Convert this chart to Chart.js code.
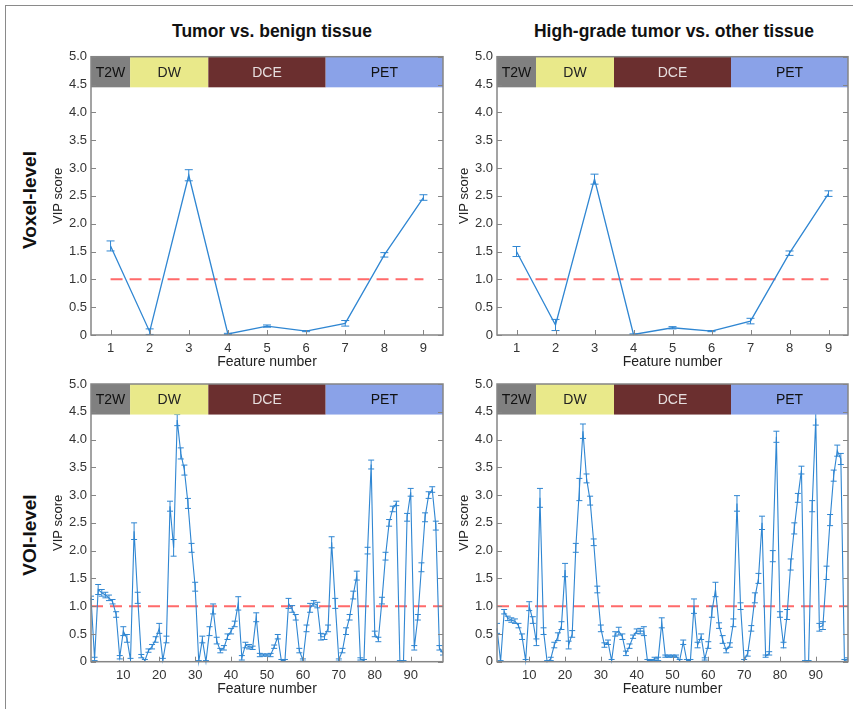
<!DOCTYPE html>
<html><head><meta charset="utf-8">
<script src="https://cdn.jsdelivr.net/npm/chart.js@4.4.0/dist/chart.umd.min.js"></script>
<style>
body{margin:0;background:#fff;width:853px;height:709px;overflow:hidden;position:relative;font-family:"Liberation Sans",Arial,sans-serif;}
canvas{position:absolute;left:0;top:0;}
.frame{position:absolute;left:5px;top:5px;width:900px;height:760px;border-left:1.5px solid #8a8a8a;border-top:1.5px solid #8a8a8a;}
.title{position:absolute;font-weight:bold;font-size:17.5px;color:#111;transform:translate(-50%,-50%);white-space:nowrap;}
.row{position:absolute;font-weight:bold;font-size:19px;color:#111;transform:translate(-50%,-50%) rotate(-90deg);white-space:nowrap;}
</style></head>
<body>
<div class="frame"></div>
<div class="title" style="left:272px;top:31px">Tumor vs. benign tissue</div>
<div class="title" style="left:674px;top:31px">High-grade tumor vs. other tissue</div>
<div class="row" style="left:30px;top:200px">Voxel-level</div>
<div class="row" style="left:30px;top:535px">VOI-level</div>
<canvas id="c1" width="853" height="709"></canvas>
<canvas id="c2" width="853" height="709"></canvas>
<canvas id="c3" width="853" height="709"></canvas>
<canvas id="c4" width="853" height="709"></canvas>
<script>
// ---------- data ----------
const voxelFeatures = [1,2,3,4,5,6,7,8,9];
const voxelTicks = [1,2,3,4,5,6,7,8,9];
const voiTicks = [10,20,30,40,50,60,70,80,90];
const yTicks = [0,0.5,1,1.5,2,2.5,3,3.5,4,4.5,5];
const threshold = 1.0;

const bandNames = ['T2W','DW','DCE','PET'];
const bandEdgesVoxel = [0.5,1.5,3.5,6.5,9.5];

const tumorVoxel    = [1.60,0.06,2.87,0.02,0.16,0.07,0.21,1.44,2.47];
const tumorVoxelErr = [0.09,0.05,0.10,0.01,0.02,0.01,0.05,0.04,0.05];
const gradeVoxel    = [1.50,0.18,2.80,0.01,0.13,0.07,0.25,1.47,2.54];
const gradeVoxelErr = [0.09,0.10,0.09,0.01,0.02,0.01,0.05,0.04,0.05];

const voiFeatures = Array.from({length:99},(_,i)=>i+1);

const tumorVoi = [
 1.15,0.05,1.30,1.24,1.20,1.15,1.08,0.85,0.08,0.55,
 0.42,0.03,2.35,1.15,0.10,0.02,0.20,0.27,0.40,0.60,
 0.03,0.40,2.80,2.05,4.35,3.75,3.45,2.85,2.05,1.35,
 0.00,0.40,0.00,0.55,0.95,0.38,0.20,0.25,0.45,0.55,
 0.68,1.05,0.07,0.30,0.27,0.25,0.80,0.12,0.12,0.12,
 0.12,0.27,0.45,0.02,0.02,1.05,0.95,0.80,0.20,0.03,
 0.60,0.97,1.05,1.02,0.45,0.45,0.60,2.15,1.05,0.03,
 0.20,0.55,0.80,1.20,1.55,0.05,0.02,2.00,3.55,0.50,
 0.40,1.10,1.90,2.50,2.75,2.85,0.00,0.00,2.60,3.05,
 0.25,0.80,1.70,2.60,3.00,3.10,2.45,0.25,0.15];
const tumorVoiErr = [
 0.03,0.03,0.09,0.06,0.05,0.05,0.04,0.05,0.03,0.08,
 0.07,0.03,0.15,0.10,0.03,0.02,0.03,0.04,0.05,0.09,
 0.03,0.06,0.09,0.15,0.10,0.10,0.09,0.09,0.08,0.08,
 0.02,0.06,0.02,0.08,0.09,0.06,0.04,0.04,0.05,0.05,
 0.05,0.12,0.04,0.05,0.04,0.03,0.08,0.03,0.02,0.02,
 0.03,0.03,0.04,0.02,0.02,0.09,0.06,0.05,0.04,0.02,
 0.06,0.08,0.05,0.05,0.06,0.05,0.06,0.10,0.09,0.02,
 0.04,0.06,0.05,0.07,0.08,0.02,0.02,0.06,0.08,0.05,
 0.04,0.06,0.07,0.06,0.05,0.04,0.02,0.02,0.07,0.07,
 0.04,0.05,0.08,0.08,0.06,0.05,0.08,0.04,0.03];

const gradeVoi = [
 0.60,0.00,0.90,0.78,0.75,0.73,0.65,0.45,0.02,1.00,
 0.75,0.35,2.95,0.55,0.00,0.05,0.30,0.45,0.65,1.65,
 0.30,0.50,2.05,3.10,4.15,3.30,2.90,2.15,1.30,0.60,
 0.30,0.35,0.02,0.50,0.55,0.45,0.15,0.28,0.45,0.55,
 0.55,0.55,0.02,0.02,0.05,0.05,0.70,0.10,0.10,0.10,
 0.10,0.02,0.35,0.02,0.02,1.00,0.30,0.45,0.05,0.30,
 0.90,1.30,0.65,0.40,0.20,0.30,0.70,2.85,1.00,0.02,
 0.15,0.60,1.15,1.50,2.50,0.10,0.15,1.90,4.05,0.85,
 0.30,0.85,1.75,2.40,2.95,3.45,0.00,0.00,2.80,4.38,
 0.62,0.65,1.60,2.55,3.35,3.80,3.65,0.02,0.05];
const gradeVoiErr = [
 0.09,0.02,0.04,0.04,0.04,0.04,0.04,0.05,0.02,0.08,
 0.06,0.06,0.17,0.06,0.02,0.03,0.05,0.07,0.07,0.12,
 0.07,0.06,0.08,0.20,0.13,0.08,0.08,0.06,0.06,0.06,
 0.04,0.04,0.02,0.04,0.07,0.05,0.04,0.04,0.03,0.04,
 0.05,0.08,0.02,0.02,0.03,0.03,0.09,0.02,0.02,0.02,
 0.02,0.02,0.04,0.02,0.02,0.13,0.05,0.05,0.02,0.06,
 0.10,0.13,0.05,0.07,0.04,0.04,0.07,0.14,0.06,0.02,
 0.05,0.05,0.09,0.09,0.12,0.02,0.03,0.10,0.10,0.05,
 0.05,0.09,0.10,0.10,0.08,0.07,0.02,0.02,0.10,0.12,
 0.07,0.07,0.12,0.10,0.10,0.10,0.10,0.02,0.02];

// ---------- style ----------
const FONT = '"Liberation Sans", Arial, sans-serif';
const BLUE = '#2f86d2';
const RED = '#ff6a6a';
const FRAME = '#858585';
const bandColors = ['#808080','#e9e98a','#6b2f2f','#8aa2e8'];
const bandText = ['#111','#222','#e6dede','#111'];
const YW = 40, XH = 36, W = 853, H = 709;

const deco = {
  id:'deco',
  afterDatasetsDraw(chart, args, o){
    const ctx = chart.ctx, a = chart.chartArea, xs = chart.scales.x, ys = chart.scales.y;
    // error bars
    ctx.save();
    ctx.beginPath(); ctx.rect(a.left, a.top, a.right-a.left, a.bottom-a.top); ctx.clip();
    ctx.strokeStyle = BLUE; ctx.lineWidth = 1;
    o.xs.forEach((xv,i)=>{
      const x = xs.getPixelForValue(xv);
      const y1 = ys.getPixelForValue(o.ys[i]+o.errs[i]);
      const y2 = ys.getPixelForValue(Math.max(0,o.ys[i]-o.errs[i]));
      ctx.beginPath();
      ctx.moveTo(x,y1); ctx.lineTo(x,y2);
      ctx.moveTo(x-o.cap,y1); ctx.lineTo(x+o.cap,y1);
      ctx.moveTo(x-o.cap,y2); ctx.lineTo(x+o.cap,y2);
      ctx.stroke();
    });
    ctx.restore();
    // bands
    ctx.save();
    const yb0 = ys.getPixelForValue(5), yb1 = ys.getPixelForValue(4.45);
    for(let i=0;i<bandNames.length;i++){
      const x0 = xs.getPixelForValue(o.edges[i]), x1 = xs.getPixelForValue(o.edges[i+1]);
      ctx.fillStyle = bandColors[i];
      ctx.fillRect(x0, yb0, x1-x0, yb1-yb0);
      ctx.fillStyle = bandText[i];
      ctx.font = '14px '+FONT;
      ctx.textAlign='center'; ctx.textBaseline='middle';
      ctx.fillText(bandNames[i], (x0+x1)/2, (yb0+yb1)/2+1);
    }
    // frame
    ctx.strokeStyle = FRAME; ctx.lineWidth = 1.5;
    ctx.strokeRect(a.left, a.top, a.right-a.left, a.bottom-a.top);
    // inward ticks
    ctx.lineWidth = 1;
    ctx.beginPath();
    yTicks.forEach(v=>{
      const y = Math.round(ys.getPixelForValue(v))+0.5;
      ctx.moveTo(a.left, y); ctx.lineTo(a.left+5, y);
      ctx.moveTo(a.right, y); ctx.lineTo(a.right-5, y);
    });
    o.xticks.forEach(v=>{
      const x = Math.round(xs.getPixelForValue(v))+0.5;
      ctx.moveTo(x, a.bottom); ctx.lineTo(x, a.bottom-5);
    });
    ctx.stroke();
    ctx.restore();
  }
};

function panel(id, area, xmin, xmax, xticks, xs, ys, errs, edges, cap, lw){
  const pts = xs.map((x,i)=>({x:x, y:ys[i]}));
  new Chart(document.getElementById(id), {
    type:'line',
    data:{datasets:[
      {data:pts, borderColor:BLUE, borderWidth:lw, pointRadius:0, tension:0, fill:false, clip:false},
      {data:[{x:xs[0],y:threshold},{x:xs[xs.length-1],y:threshold}], borderColor:RED, borderWidth:2, borderDash:[12,7], pointRadius:0, fill:false}
    ]},
    options:{
      responsive:false, animation:false, events:[],
      layout:{padding:{left:area.l-YW, top:area.t, right:W-area.r, bottom:H-area.b-XH}},
      plugins:{legend:{display:false}, tooltip:{enabled:false},
        deco:{xs:xs, ys:ys, errs:errs, edges:edges, xticks:xticks, cap:cap}},
      scales:{
        x:{type:'linear', min:xmin, max:xmax,
          afterBuildTicks:s=>{s.ticks = xticks.map(v=>({value:v}));},
          afterFit:s=>{s.height = XH;},
          grid:{display:false, drawTicks:false}, border:{display:false},
          ticks:{padding:6, autoSkip:false, maxRotation:0, color:'#333', font:{size:13, family:FONT}},
          title:{display:true, text:'Feature number', color:'#222', font:{size:14, family:FONT}, padding:{top:0,bottom:0}}},
        y:{type:'linear', min:0, max:5,
          afterBuildTicks:s=>{s.ticks = yTicks.map(v=>({value:v}));},
          afterFit:s=>{s.width = YW;},
          grid:{display:false, drawTicks:false}, border:{display:false},
          ticks:{padding:4, color:'#333', font:{size:13, family:FONT}, callback:v=> v===0 ? '0' : Number(v).toFixed(1)},
          title:{display:true, text:'VIP score', color:'#222', font:{size:13, family:FONT}, padding:{top:0,bottom:0}}}
      }
    },
    plugins:[deco]
  });
}

const voiEdges = bandEdgesVoxel.map(e => 1 + (e-0.5)*98/9);
panel('c1', {l:91, t:56.7, r:443, b:335}, 0.5, 9.5, voxelTicks, voxelFeatures, tumorVoxel, tumorVoxelErr, bandEdgesVoxel, 4, 1.3);
panel('c2', {l:497, t:56.7, r:848, b:335}, 0.5, 9.5, voxelTicks, voxelFeatures, gradeVoxel, gradeVoxelErr, bandEdgesVoxel, 4, 1.3);
panel('c3', {l:91, t:384, r:443, b:661.7}, 1, 99, voiTicks, voiFeatures, tumorVoi, tumorVoiErr, voiEdges, 3, 1.1);
panel('c4', {l:497, t:384, r:848, b:661.7}, 1, 99, voiTicks, voiFeatures, gradeVoi, gradeVoiErr, voiEdges, 3, 1.1);
</script>
</body></html>
